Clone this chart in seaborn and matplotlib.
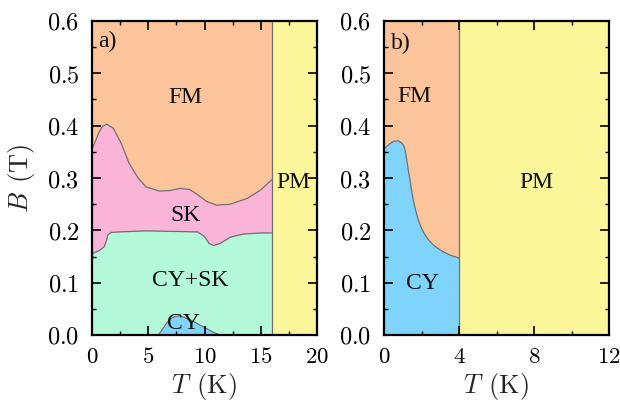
import matplotlib
matplotlib.use("Agg")
import matplotlib.pyplot as plt
import seaborn as sns
from matplotlib.ticker import MultipleLocator, FuncFormatter

# ---- data ----
# panel a: FM / SK boundary
Ta_up = [0, 0.3, 0.6, 0.9, 1.3, 1.9, 2.6, 3.3, 4.1, 4.8, 6.0, 6.9, 7.8, 8.7, 9.4, 10.2, 11.1, 12.3, 13.8, 15.0, 16.0]
Ba_up = [0.355, 0.370, 0.386, 0.398, 0.403, 0.395, 0.366, 0.328, 0.300, 0.283, 0.275, 0.276, 0.280, 0.278, 0.268, 0.255, 0.248, 0.250, 0.261, 0.277, 0.297]
# panel a: SK / CY+SK boundary
Ta_lo = [0, 0.7, 1.1, 1.3, 1.4, 1.7, 2.4, 4.8, 9.4, 10.0, 10.4, 10.8, 11.4, 12.3, 13.5, 15.0, 16.0]
Ba_lo = [0.155, 0.162, 0.169, 0.182, 0.191, 0.196, 0.197, 0.199, 0.197, 0.188, 0.175, 0.171, 0.175, 0.187, 0.193, 0.195, 0.195]
# panel a: CY pocket
Ta_cy = [5.9, 6.3, 6.7, 7.1, 7.5, 7.9, 8.4, 9.0, 9.6, 10.2, 10.8, 11.4]
Ba_cy = [0.0, 0.012, 0.025, 0.033, 0.036, 0.036, 0.032, 0.026, 0.019, 0.012, 0.005, 0.0]
Tc_a = 16.0
# panel b: FM / CY boundary
Tb = [0, 0.23, 0.5, 0.76, 0.94, 1.05, 1.12, 1.18, 1.24, 1.31, 1.39, 1.47, 1.56, 1.69, 1.83, 2.0, 2.19, 2.4, 2.63, 2.9, 3.16, 3.5, 4.0]
Bb = [0.355, 0.363, 0.370, 0.371, 0.367, 0.362, 0.354, 0.342, 0.328, 0.312, 0.296, 0.276, 0.258, 0.238, 0.220, 0.204, 0.191, 0.181, 0.172, 0.165, 0.159, 0.153, 0.147]
Tc_b = 4.0

xticks_a = [0, 5, 10, 15, 20]
xticks_b = [0, 4, 8, 12]
yticks = [0.0, 0.1, 0.2, 0.3, 0.4, 0.5, 0.6]

# ---- style ----
sns.set_theme(style="ticks")
plt.rcParams.update({
    "mathtext.fontset": "cm",
    "font.family": ["DejaVu Serif"],
    "axes.axisbelow": False,
    "xtick.direction": "in", "ytick.direction": "in",
    "xtick.top": True, "ytick.right": True,
    "xtick.major.size": 6.5, "ytick.major.size": 6.5,
    "xtick.minor.size": 3, "ytick.minor.size": 3,
    "xtick.major.width": 1.2, "ytick.major.width": 1.2,
    "xtick.minor.width": 1.0, "ytick.minor.width": 1.0,
    "xtick.color": "black", "ytick.color": "black",
    "axes.edgecolor": "black", "axes.linewidth": 1.6,
})

C_FM = "#FBC49B"
C_SK = "#F9B4D8"
C_CYSK = "#B3F9D9"
C_CY = "#7FD4FE"
C_PM = "#FCF69A"
C_LINE = "#707070"
LBL = dict(family="Liberation Serif", fontsize=17, ha="center", va="center", color="#111111")

fig = plt.figure(figsize=(6.2, 4.01), dpi=100)
axa = fig.add_axes([92/620, (401-335)/401, 225/620, 314/401])
axb = fig.add_axes([384/620, (401-335)/401, 225/620, 314/401])

fmt = FuncFormatter(lambda v, p: f"${v:.1f}$")
fmtx = FuncFormatter(lambda v, p: f"${v:g}$")
XLAB = r"$T\;\,(\mathrm{K})$"
YLAB = r"$B\;\,(\mathrm{T})$"

# panel a
axa.fill_between(Ta_up, Ba_up, 0.6, color=C_FM, lw=0)
axa.fill_between(Ta_up, 0, Ba_up, color=C_SK, lw=0)
axa.fill_between(Ta_lo, 0, Ba_lo, color=C_CYSK, lw=0)
axa.fill_between(Ta_cy, 0, Ba_cy, color=C_CY, lw=0)
axa.axvspan(Tc_a, 20, color=C_PM, lw=0)
for T, B in [(Ta_up, Ba_up), (Ta_lo, Ba_lo), (Ta_cy, Ba_cy)]:
    sns.lineplot(x=T, y=B, ax=axa, color=C_LINE, lw=0.9, sort=False, estimator=None)
axa.axvline(Tc_a, color=C_LINE, lw=0.9)
axa.set_xlim(0, 20)
axa.set_ylim(0, 0.6)
axa.set_xticks(xticks_a)
axa.set_yticks(yticks)
axa.xaxis.set_minor_locator(MultipleLocator(2.5))
axa.yaxis.set_minor_locator(MultipleLocator(0.05))
axa.xaxis.set_major_formatter(fmtx)
axa.yaxis.set_major_formatter(fmt)
axa.set_xlabel(XLAB, fontsize=19, labelpad=2)
axa.set_ylabel(YLAB, fontsize=19, labelpad=7)
axa.text(8.3, 0.453, "FM", **LBL)
axa.text(8.3, 0.228, "SK", **LBL)
axa.text(8.7, 0.105, "CY+SK", **LBL)
axa.text(8.1, 0.022, "CY", **LBL)
axa.text(17.9, 0.292, "PM", **LBL)
axa.text(1.4, 0.56, "a)", **LBL)

# panel b
axb.fill_between(Tb, Bb, 0.6, color=C_FM, lw=0)
axb.fill_between(Tb, 0, Bb, color=C_CY, lw=0)
axb.axvspan(Tc_b, 12, color=C_PM, lw=0)
sns.lineplot(x=Tb, y=Bb, ax=axb, color=C_LINE, lw=0.9, sort=False, estimator=None)
axb.axvline(Tc_b, color=C_LINE, lw=0.9)
axb.set_xlim(0, 12)
axb.set_ylim(0, 0.6)
axb.set_xticks(xticks_b)
axb.set_yticks(yticks)
axb.xaxis.set_minor_locator(MultipleLocator(2))
axb.yaxis.set_minor_locator(MultipleLocator(0.05))
axb.xaxis.set_major_formatter(fmtx)
axb.yaxis.set_major_formatter(fmt)
axb.set_xlabel(XLAB, fontsize=19, labelpad=2)
axb.set_ylabel("")
axb.text(1.6, 0.455, "FM", **LBL)
axb.text(2.03, 0.098, "CY", **LBL)
axb.text(8.1, 0.292, "PM", **LBL)
axb.text(0.9, 0.558, "b)", **LBL)

for ax in (axa, axb):
    ax.tick_params(axis="x", which="major", labelsize=16.5, pad=8)
    ax.tick_params(axis="y", which="major", labelsize=17.5, pad=9)

fig.savefig("out.png", dpi=100)
